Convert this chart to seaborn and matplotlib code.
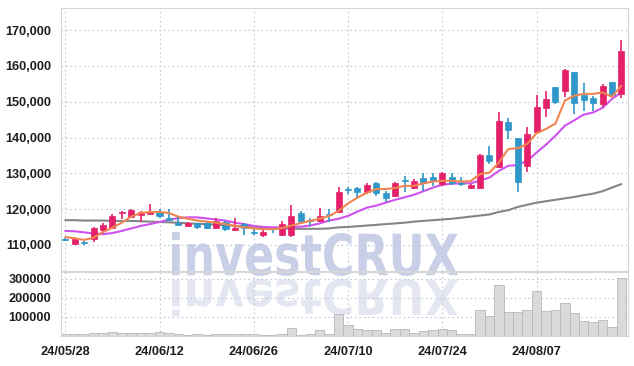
import numpy as np
import pandas as pd
import matplotlib
matplotlib.use("Agg")
import matplotlib.pyplot as plt
import seaborn as sns
from matplotlib.textpath import TextPath
from matplotlib.patches import PathPatch
from matplotlib.font_manager import FontProperties
from matplotlib.transforms import Affine2D, IdentityTransform
import warnings
warnings.filterwarnings("ignore")

dates = ["24/05/28", "24/05/29", "24/05/30", "24/05/31", "24/06/03", "24/06/04", "24/06/05", "24/06/07",
         "24/06/10", "24/06/11", "24/06/12", "24/06/13", "24/06/14", "24/06/17", "24/06/18", "24/06/19",
         "24/06/20", "24/06/21", "24/06/24", "24/06/25", "24/06/26", "24/06/27", "24/06/28", "24/07/01",
         "24/07/02", "24/07/03", "24/07/04", "24/07/05", "24/07/08", "24/07/09", "24/07/10", "24/07/11",
         "24/07/12", "24/07/15", "24/07/16", "24/07/17", "24/07/18", "24/07/19", "24/07/22", "24/07/23",
         "24/07/24", "24/07/25", "24/07/26", "24/07/29", "24/07/30", "24/07/31", "24/08/01", "24/08/02",
         "24/08/05", "24/08/06", "24/08/07", "24/08/08", "24/08/09", "24/08/12", "24/08/13", "24/08/14",
         "24/08/16", "24/08/19", "24/08/20", "24/08/21"]

open_ = [111500, 110200, 110800, 111600, 114200, 114600, 118900, 117900, 118400, 118600,
         119300, 117400, 116100, 115300, 116000, 116000, 114800, 116500, 114100, 115800,
         113600, 112700, 114800, 112700, 112700, 119000, 116900, 116700, 118600, 119300,
         125600, 126000, 124800, 127300, 124600, 123700, 128000, 126000, 128600, 128900,
         127000, 129000, 127400, 125900, 125900, 135200, 131900, 144400, 140000, 132100,
         141600, 148300, 154000, 152900, 158200, 152000, 151100, 149400, 155600, 152200]
high = [111800, 112200, 111200, 115000, 116000, 118600, 119600, 120000, 119600, 121400,
        120000, 120000, 118000, 116300, 116200, 116300, 117600, 116800, 117400, 116200,
        114700, 114500, 114800, 116700, 121100, 119600, 117500, 120400, 119900, 126200,
        126300, 126300, 127300, 127700, 125100, 127500, 129300, 128300, 130000, 130200,
        130400, 130000, 129000, 126900, 135500, 137700, 147000, 145500, 140000, 143000,
        152000, 153100, 154000, 159200, 158200, 155200, 151500, 155000, 155600, 167300]
low = [111000, 110000, 110100, 110900, 113600, 114400, 117200, 117700, 116400, 118600,
       117400, 116600, 115300, 115000, 114400, 114500, 114300, 114000, 114000, 112900,
       112800, 112100, 113300, 112500, 112100, 115700, 115300, 116500, 116500, 119000,
       124200, 123200, 124300, 123600, 122100, 123400, 124700, 125600, 125100, 126500,
       126500, 126700, 126500, 125700, 125700, 132700, 131600, 139700, 124800, 130500,
       141100, 145800, 149500, 151200, 146700, 147500, 147500, 148500, 151400, 151100]
close = [111300, 112000, 110400, 114700, 115600, 118100, 119100, 119800, 119300, 119300,
         118100, 117000, 115600, 116000, 115100, 114800, 116700, 114400, 114600, 114700,
         113300, 113600, 114400, 115800, 118100, 116400, 116700, 118100, 118300, 124800,
         125400, 124900, 126800, 124400, 123200, 127200, 127800, 127900, 127200, 127900,
         130000, 127400, 127000, 126800, 135200, 133500, 144700, 142100, 127700, 141000,
         148600, 150800, 149800, 159000, 149600, 150600, 149600, 154300, 151900, 164300]
volume = [8000, 11000, 8000, 17000, 14000, 22000, 17000, 17000, 17000, 17000,
          22000, 14000, 8000, 6000, 8000, 6000, 11000, 12000, 12000, 12000,
          11000, 6000, 6000, 8000, 43000, 6000, 8000, 29000, 8000, 117000,
          60000, 39000, 34000, 29000, 17000, 39000, 39000, 17000, 26000, 33000,
          39000, 32000, 11000, 11000, 138000, 105000, 268000, 126000, 126000, 138000,
          235000, 131000, 138000, 173000, 121000, 79000, 74000, 82000, 48000, 305000]

ma_short = [112200, 111800, 111400, 112000, 113600, 114800, 116200, 117900, 118900, 119200,
            119200, 118900, 117900, 117300, 116800, 116500, 116200, 115800, 115300, 114900,
            114600, 114400, 114400, 114700, 115400, 116100, 116700, 117300, 118100, 119500,
            121600, 123200, 124600, 125600, 125600, 125900, 126500, 126500, 127200, 127700,
            127900, 127900, 127700, 127800, 129800, 130200, 133000, 136800, 137000, 138200,
            141200, 142400, 143900, 150300, 151700, 152200, 152200, 152600, 151400, 154500]
ma_mid = [113900, 113800, 113500, 113200, 113000, 113300, 113900, 114600, 115300, 115800,
          116400, 117000, 117500, 117700, 117700, 117400, 117100, 116800, 116200, 115800,
          115300, 115000, 114900, 114900, 115000, 115100, 115400, 116000, 116800, 117300,
          118100, 119300, 120400, 121000, 121800, 122600, 123300, 124000, 125000, 126000,
          126800, 127100, 127200, 127200, 128000, 128800, 130700, 132100, 132300, 133500,
          135800, 138000, 140500, 143300, 144800, 146400, 147000, 148300, 150800, 152600]
ma_long = [116900, 116900, 116800, 116800, 116800, 116700, 116700, 116700, 116600, 116500,
           116400, 116300, 116200, 116000, 115900, 115800, 115600, 115500, 115300, 115100,
           114900, 114800, 114700, 114600, 114500, 114500, 114500, 114500, 114600, 114900,
           115000, 115200, 115400, 115600, 115800, 116000, 116200, 116500, 116700, 116900,
           117100, 117300, 117600, 117900, 118200, 118500, 119200, 119700, 120600, 121200,
           121800, 122200, 122600, 123000, 123400, 123900, 124300, 125000, 126000, 127000]

RED = "#e5206a"
BLUE = "#2f97c9"
GRID = "#c3c9dd"
label_font = dict(family=["Liberation Sans", "DejaVu Sans"], weight="bold", size=9.2, color="#1e1e1e")

sns.set_style("white")

df = pd.DataFrame({"date": dates, "open": open_, "high": high, "low": low, "close": close,
                   "volume": volume, "ma5": ma_short, "ma20": ma_mid, "ma60": ma_long})
df["idx"] = np.arange(len(df))
df["up"] = df["close"] >= df["open"]
colors = np.where(df["up"], RED, BLUE)

fig = plt.figure(figsize=(6.34, 3.66), dpi=100)
W, H = 634, 366
ax = fig.add_axes([61 / W, 1 - 271 / H, (628 - 61) / W, (271 - 8) / H])
axv = fig.add_axes([61 / W, 1 - 336 / H, (628 - 61) / W, (336 - 272) / H], sharex=ax)
axv.set_facecolor("none")

# watermark and its reflection, in pixel coordinates
fp = FontProperties(family="DejaVu Sans", weight="bold")
tp = TextPath((0, 0), "investCRUX", size=50, prop=fp)
bb = tp.get_extents()
x0, x1 = 172, 458
top, base = 232, 276
sx = (x1 - x0) / bb.width
sy = (base - top) / bb.height
main_tf = Affine2D().translate(-bb.x0, -bb.y0).scale(sx, sy).translate(x0, H - base)
wm = PathPatch(main_tf.transform_path(tp), facecolor="#c9cfe6", edgecolor="none",
               transform=IdentityTransform(), zorder=0.5, clip_on=False)
ax.add_patch(wm)
refl_tf = Affine2D().translate(-bb.x0, -bb.y0).scale(sx, -sy * 0.85).translate(x0, H - (base + 3))
wr = PathPatch(refl_tf.transform_path(tp), facecolor="#e4e7f2", edgecolor="none",
               transform=IdentityTransform(), zorder=0.5, clip_on=False)
axv.add_patch(wr)

# candles
ax.vlines(df["idx"], df["low"], df["high"], colors=colors, lw=1.2, zorder=3)
body = np.maximum((df["close"] - df["open"]).abs(), 350)
ax.bar(df["idx"], body, bottom=np.minimum(df["open"], df["close"]), width=0.64,
       color=colors, edgecolor=colors, lw=0.5, zorder=4)

# moving averages
sns.lineplot(x=df["idx"], y=df["ma60"], color="#858585", lw=1.5, ax=ax, zorder=2)
sns.lineplot(x=df["idx"], y=df["ma20"], color="#cf52ee", lw=1.5, ax=ax, zorder=2)
sns.lineplot(x=df["idx"], y=df["ma5"], color="#f08552", lw=1.5, ax=ax, zorder=5)

# volume
sns.barplot(x=df["idx"], y=df["volume"], native_scale=True, color="#dadada", saturation=1,
            edgecolor="#b8b8b8", linewidth=0.6, width=1.0, ax=axv, zorder=2)

ax.set_xlim(-0.45, 59.7)
ax.set_ylim(102700, 176200)
axv.set_ylim(0, 336000)

price_ticks = [110000, 120000, 130000, 140000, 150000, 160000, 170000]
ax.set_yticks(price_ticks)
ax.set_yticklabels([f"{t:,}" for t in price_ticks], **label_font)
vol_ticks = [100000, 200000, 300000]
axv.set_yticks(vol_ticks)
axv.set_yticklabels([str(t) for t in vol_ticks], **label_font)
xt = list(range(0, 60, 10))
axv.set_xticks(xt)
axv.set_xticklabels([dates[i] for i in xt], **label_font)
ax.tick_params(labelbottom=False)

for a in (ax, axv):
    a.set_xlabel("")
    a.set_ylabel("")
    a.tick_params(length=0, pad=7)
    a.grid(True, color=GRID, ls=(0, (1.5, 2.5)), lw=0.8)
    a.set_axisbelow(True)
    for s in a.spines.values():
        s.set_color("#d6d6d6")
        s.set_linewidth(0.8)

fig.savefig("out.png", dpi=100, facecolor="white")
